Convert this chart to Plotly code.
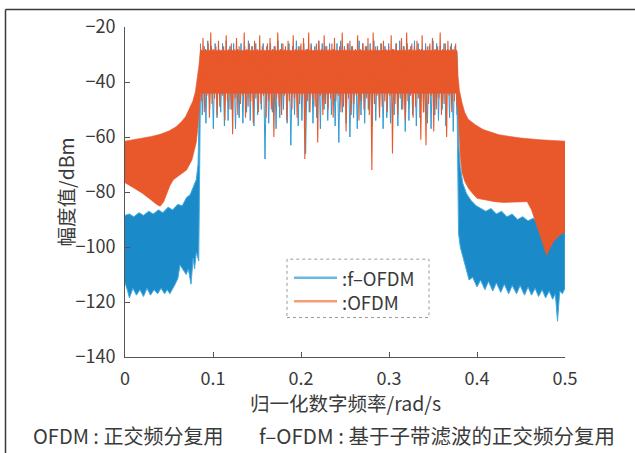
import numpy as np
import plotly.graph_objects as go

# ---------------- data ----------------
# OFDM (orange) spectrum envelope: upper edge, then lower edge (right to left)
ofdm_up_x = [0, 0.01, 0.02, 0.03, 0.04, 0.05, 0.058, 0.064, 0.069, 0.073, 0.077, 0.08, 0.082, 0.084, 0.0857,
             0.3772, 0.3785, 0.38, 0.383, 0.386, 0.39, 0.398, 0.407, 0.415, 0.425, 0.4375, 0.45, 0.4716, 0.5]
ofdm_up_y = [-61.5, -61, -60.5, -59.8, -59, -57.8, -56.3, -54.5, -52.5, -50, -47, -43.5, -39.5, -34, -28.5,
             -28.5, -38, -43, -47.5, -51, -53.5, -55.5, -57.3, -58.2, -59.2, -59.8, -60.4, -61, -61.5]
ofdm_lo_x = [0.5, 0.494, 0.487, 0.482, 0.479, 0.476, 0.471, 0.466, 0.462, 0.457, 0.45, 0.44, 0.43, 0.42,
             0.41, 0.40, 0.395, 0.39, 0.386, 0.383, 0.381, 0.379, 0.3772,
             0.0857, 0.085, 0.083, 0.081, 0.076, 0.07, 0.0625, 0.055, 0.051, 0.048, 0.044, 0.040, 0.036,
             0.03, 0.02, 0.01, 0]
ofdm_lo_y = [-94.6, -95.7, -98, -101, -103, -100, -95, -90, -86.5, -83.5, -83.6, -83.8, -83.8, -83.5,
             -83, -82.3, -80.5, -78.5, -76, -73, -67, -56, -44,
             -44, -48, -56, -62, -68.4, -72, -73.7, -75.5, -77.7, -80.5, -83.5, -85.2, -84.5,
             -83, -80.5, -78.5, -76.6]

# f-OFDM (blue) spectrum envelope
fofdm_up_x = [0, 0.005, 0.01, 0.016, 0.021, 0.027, 0.032, 0.038, 0.043, 0.049, 0.054, 0.06, 0.065, 0.07,
              0.074, 0.078, 0.081, 0.083, 0.0835, 0.0845, 0.0857,
              0.3772, 0.378, 0.379, 0.381, 0.384, 0.388, 0.393, 0.399, 0.405, 0.41, 0.416, 0.422, 0.428,
              0.434, 0.44, 0.446, 0.452, 0.458, 0.464, 0.47, 0.476, 0.482, 0.488, 0.494, 0.5]
fofdm_up_y = [-88.5, -88, -89, -87.5, -88.5, -87, -88, -86.5, -87.5, -85.5, -86.5, -84.5, -85, -82,
              -81, -78, -75.5, -70, -62, -58, -29,
              -29, -50, -62, -71, -77, -80.5, -83, -85, -86, -87, -86, -88, -87,
              -89, -88, -90, -89, -90.5, -89.5, -91.5, -90.5, -92.5, -92, -93.5, -93]
fofdm_lo_x = [0.5, 0.497, 0.494, 0.4915, 0.489, 0.486, 0.482, 0.478, 0.474, 0.47, 0.466, 0.462, 0.458,
              0.454, 0.449, 0.445, 0.44, 0.436, 0.431, 0.427, 0.422, 0.418, 0.413, 0.409, 0.404, 0.4,
              0.395, 0.391, 0.387, 0.384, 0.381, 0.379, 0.3775, 0.3772,
              0.0857, 0.0852, 0.0845, 0.0838, 0.081, 0.079, 0.0775, 0.075, 0.072, 0.0695, 0.0625, 0.06,
              0.057, 0.054, 0.051, 0.048, 0.045, 0.041, 0.037, 0.033, 0.029, 0.025, 0.021, 0.017, 0.013,
              0.009, 0.005, 0.003, 0]
fofdm_lo_y = [-115, -117, -116, -127, -117, -119, -116, -118.5, -115.5, -118, -115, -117.5, -114.5,
              -117.5, -114, -117, -114, -117, -113.5, -116.5, -113, -116, -112.5, -115.5, -112, -114.5,
              -111, -112, -107, -104, -100, -95, -60, -44,
              -44, -60, -100, -105, -102, -108, -104, -113.5, -108, -110, -106.5, -111.5,
              -113.5, -115, -117, -115.5, -117, -115, -117, -115.5, -117.5, -115, -118, -115.5, -117.5,
              -115, -118.5, -116, -113]

# Pass-band fluctuation: alternating peak / trough values (dBm)
pass_x_start, pass_x_end = 0.0857, 0.3772
ofdm_peaks = [-27, -24, -28, -26, -22, -28, -27, -25, -29, -27,
              -23, -28, -26, -28, -24, -27, -29, -22, -28, -26,
              -27, -25, -28, -23, -27, -29, -26, -24, -28, -27,
              -22, -28, -26, -27, -25, -29, -23, -28, -27, -26,
              -24, -28, -22, -27, -29, -26, -25, -28, -23, -27,
              -28, -26, -24, -29, -27, -22, -28, -26, -25, -27,
              -29, -23, -28, -26, -27, -24, -28, -22, -27, -29,
              -26, -25, -28, -27, -23, -28, -26, -29, -24, -27,
              -22, -28, -26, -27, -25, -28, -23, -29, -27, -26,
              -24, -28, -27, -22, -28, -26, -25, -27, -28, -26]
ofdm_troughs = [-47, -51, -45, -53, -48, -46, -52, -49, -45, -54,
                -47, -50, -59, -46, -52, -48, -45, -53, -49, -47,
                -55, -46, -51, -48, -45, -53, -47, -50, -60, -46,
                -49, -52, -45, -54, -47, -50, -46, -53, -48, -45,
                -68, -47, -51, -46, -49, -62, -45, -52, -48, -50,
                -46, -53, -47, -45, -51, -49, -58, -46, -52, -48,
                -45, -54, -47, -50, -46, -52, -72, -48, -45, -53,
                -49, -47, -51, -45, -66, -48, -52, -46, -50, -54,
                -47, -45, -53, -49, -46, -61, -51, -63, -48, -45,
                -58, -50, -46, -52, -48, -60, -45, -51, -47, -49]
fofdm_peaks = [-26, -27, -25, -27, -26, -28, -26, -25, -27, -26,
               -28, -26, -27, -25, -27, -26, -28, -26, -27, -26,
               -27, -25, -26, -28, -26, -27, -25, -27, -26, -28,
               -26, -27, -25, -26, -27, -26, -28, -26, -25, -27,
               -26, -27, -28, -25, -26, -27, -26, -25, -27, -26,
               -27, -26, -28, -26, -25, -27, -26, -27, -25, -26,
               -28, -26, -27, -25, -26, -27, -26, -28, -26, -27]
fofdm_troughs = [-52, -55, -50, -57, -53, -51, -56, -54, -50, -57,
                 -53, -55, -51, -54, -56, -52, -50, -68, -55, -51,
                 -57, -53, -50, -55, -63, -52, -56, -54, -66, -51,
                 -55, -53, -57, -50, -54, -52, -56, -62, -51, -55,
                 -60, -53, -57, -52, -55, -50, -56, -54, -51, -57,
                 -53, -55, -52, -56, -50, -58, -54, -52, -56, -53,
                 -51, -55, -57, -52, -54, -50, -56, -53, -58, -52]

x_ticks = [0, 0.1, 0.2, 0.3, 0.4, 0.5]
y_ticks = [-140, -120, -100, -80, -60, -40, -20]
legend_names = [":f\u2013OFDM", ":OFDM"]
x_title = "归一化数字频率/rad/s"
y_title = "幅度值/dBm"
caption_1 = "OFDM : 正交频分复用"
caption_2 = "f\u2013OFDM : 基于子带滤波的正交频分复用"

# ---------------- style ----------------
ORANGE = "#E8582A"
BLUE = "#1A8AC9"
BLUE_LIGHT = "#45AADF"
BLUE_SPIKE = "#2F9BD7"
LEG_BLUE = "#6AB8E2"
LEG_ORANGE = "#F29E78"
TXT = "#3a3a3a"
FONT = "Noto Sans CJK SC"


def zigzag(peaks, troughs):
    n = len(peaks)
    xs = np.linspace(pass_x_start, pass_x_end, 2 * n)
    ys = np.empty(2 * n)
    ys[0::2] = peaks
    ys[1::2] = troughs
    return xs, ys


fig = go.Figure()

# blue envelope
fig.add_trace(go.Scatter(x=fofdm_up_x + fofdm_lo_x, y=fofdm_up_y + fofdm_lo_y, mode="lines",
                         fill="toself", fillcolor=BLUE, line=dict(color=BLUE_LIGHT, width=1),
                         showlegend=False, hoverinfo="skip"))
bx, by = zigzag(fofdm_peaks, fofdm_troughs)
fig.add_trace(go.Scatter(x=bx, y=by, mode="lines", line=dict(color=BLUE_SPIKE, width=1),
                         showlegend=False, hoverinfo="skip"))
# orange envelope
fig.add_trace(go.Scatter(x=ofdm_up_x + ofdm_lo_x, y=ofdm_up_y + ofdm_lo_y, mode="lines",
                         fill="toself", fillcolor=ORANGE, line=dict(color=ORANGE, width=0.6),
                         showlegend=False, hoverinfo="skip"))
ox, oy = zigzag(ofdm_peaks, ofdm_troughs)
fig.add_trace(go.Scatter(x=ox, y=oy, mode="lines", line=dict(color=ORANGE, width=1.1),
                         showlegend=False, hoverinfo="skip"))

axis_common = dict(showgrid=False, zeroline=False, showline=True, linecolor="#555555", linewidth=1,
                   ticks="inside", ticklen=5, tickcolor="#555555",
                   tickfont=dict(family=FONT, size=18, color=TXT))

fig.update_layout(
    width=635, height=453,
    margin=dict(l=125, r=70, t=23, b=96),
    paper_bgcolor="white", plot_bgcolor="white",
    showlegend=False,
    xaxis=dict(range=[0, 0.5], tickvals=x_ticks, ticklabelstandoff=5, **axis_common),
    yaxis=dict(range=[-140, -20], tickvals=y_ticks, ticklabelstandoff=5, **axis_common),
    font=dict(family=FONT, color=TXT),
)

# paper-coordinate helpers (plot area: px 125..565, py 23..357)
def px(v):
    return (v - 125) / 440.0


def py(v):
    return (357 - v) / 334.0


shapes = [
    # outer frame (top and left)
    dict(type="line", xref="paper", yref="paper", x0=px(5.5), x1=px(640), y0=py(5.3), y1=py(5.3),
         line=dict(color="#3a3a3a", width=1.5)),
    dict(type="line", xref="paper", yref="paper", x0=px(5.5), x1=px(5.5), y0=py(5.3), y1=py(460),
         line=dict(color="#3a3a3a", width=1.5)),
    # legend box
    dict(type="rect", xref="paper", yref="paper", x0=px(287), x1=px(429), y0=py(317), y1=py(258),
         line=dict(color="#9a9a9a", width=1, dash="dot"), fillcolor="rgba(255,255,255,0)"),
    dict(type="line", xref="paper", yref="paper", x0=px(294), x1=px(337), y0=py(276.7), y1=py(276.7),
         line=dict(color=LEG_BLUE, width=2.5)),
    dict(type="line", xref="paper", yref="paper", x0=px(294), x1=px(337), y0=py(300.7), y1=py(300.7),
         line=dict(color=LEG_ORANGE, width=2.5)),
]
fig.update_layout(shapes=shapes)

ann = [
    dict(text="<br>".join(legend_names), x=px(340), y=py(288.7), xanchor="left", yanchor="middle",
         align="left", font=dict(size=18.5)),
    dict(text=x_title, x=px(345), y=py(403), xanchor="center", yanchor="middle", font=dict(size=19.5)),
    dict(text=y_title, x=px(65), y=py(190.5), xanchor="center", yanchor="middle", textangle=-90,
         font=dict(size=19.5)),
    dict(text=caption_1, x=px(31), y=py(436), xanchor="left", yanchor="middle", font=dict(size=20)),
    dict(text=caption_2, x=px(257), y=py(436), xanchor="left", yanchor="middle", font=dict(size=20.5)),
]
for a in ann:
    a["font"] = dict(family=FONT, color=TXT, **a["font"])
    a.update(xref="paper", yref="paper", showarrow=False)
fig.update_layout(annotations=ann)

fig.write_html("out.html")
